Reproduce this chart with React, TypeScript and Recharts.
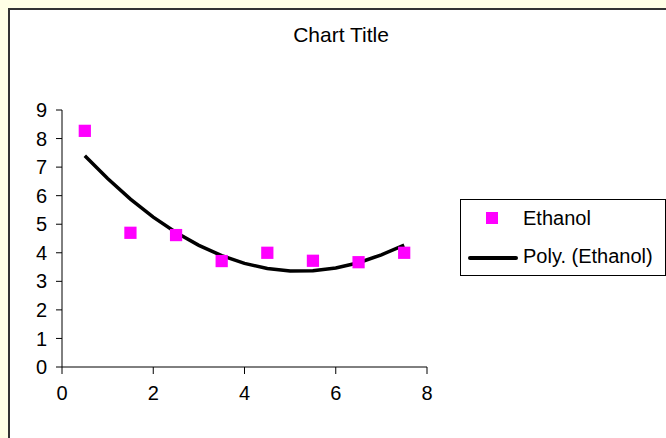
import {
  ComposedChart,
  Scatter,
  Line,
  XAxis,
  YAxis,
  ZAxis,
} from "recharts";

// measured points (Ethanol)
const xs = [0.5, 1.5, 2.5, 3.5, 4.5, 5.5, 6.5, 7.5];
const ethanol = [8.27, 4.7, 4.62, 3.71, 4.0, 3.72, 3.67, 4.0];

// polynomial trendline
const trendX = [0.5, 1, 1.5, 2, 2.5, 3, 3.5, 4, 4.5, 5, 5.5, 6, 6.5, 7, 7.5];
const trendY = [
  7.4, 6.6, 5.88, 5.25, 4.71, 4.26, 3.9, 3.63, 3.45, 3.36, 3.37, 3.47, 3.65,
  3.93, 4.27,
];

const xTicks = [0, 2, 4, 6, 8];
const yTicks = [0, 1, 2, 3, 4, 5, 6, 7, 8, 9];

const points = xs.map((x, i) => ({ x, y: ethanol[i] }));
const trend = trendX.map((x, i) => ({ x, y: trendY[i] }));

const FONT = "'Liberation Sans', Arial, sans-serif";

function LegendBox() {
  return (
    <div
      style={{
        position: "absolute",
        left: 450,
        top: 189,
        width: 204,
        height: 75,
        border: "1px solid #000",
        background: "#fff",
        fontFamily: FONT,
        fontSize: 20,
        lineHeight: "23px",
        color: "#000",
      }}
    >
      <div
        style={{
          position: "absolute",
          left: 25,
          top: 12,
          width: 12,
          height: 12,
          background: "#ff00ff",
        }}
      />
      <div style={{ position: "absolute", left: 62, top: 7 }}>Ethanol</div>
      <div
        style={{
          position: "absolute",
          left: 7,
          top: 56,
          width: 50,
          height: 4,
          background: "#000",
          borderRadius: 2,
        }}
      />
      <div style={{ position: "absolute", left: 62, top: 45 }}>
        Poly. (Ethanol)
      </div>
    </div>
  );
}

export default function App() {
  return (
    <div
      style={{
        position: "fixed",
        left: 0,
        top: 0,
        width: 666,
        height: 438,
        background: "#ffffe6",
        overflow: "hidden",
      }}
    >
      <div
        style={{
          position: "absolute",
          left: 8,
          top: 8,
          width: 680,
          height: 450,
          border: "2px solid #333",
          background: "#fff",
        }}
      >
        <div
          style={{
            position: "absolute",
            left: 0,
            top: 13,
            width: 662,
            textAlign: "center",
            fontFamily: FONT,
            fontSize: 21,
            color: "#000",
          }}
        >
          Chart Title
        </div>
        <ComposedChart
          width={656}
          height={428}
          margin={{ top: 100, right: 239, bottom: 31, left: 12 }}
          style={{ fontFamily: FONT }}
        >
          <XAxis
            dataKey="x"
            type="number"
            domain={[0, 8]}
            ticks={xTicks}
            height={40}
            tickSize={7}
            tickMargin={12}
            stroke="#000"
            tick={{ fill: "#000", fontSize: 20 }}
            allowDuplicatedCategory={false}
          />
          <YAxis
            dataKey="y"
            type="number"
            domain={[0, 9]}
            ticks={yTicks}
            width={40}
            tickSize={6}
            tickMargin={9}
            stroke="#000"
            tick={{ fill: "#000", fontSize: 20 }}
          />
          <ZAxis range={[150, 150]} />
          <Line
            data={trend}
            dataKey="y"
            type="linear"
            stroke="#000"
            strokeWidth={3.5}
            dot={false}
            isAnimationActive={false}
          />
          <Scatter
            data={points}
            dataKey="y"
            fill="#ff00ff"
            shape="square"
            isAnimationActive={false}
          />
        </ComposedChart>
        <LegendBox />
      </div>
    </div>
  );
}
